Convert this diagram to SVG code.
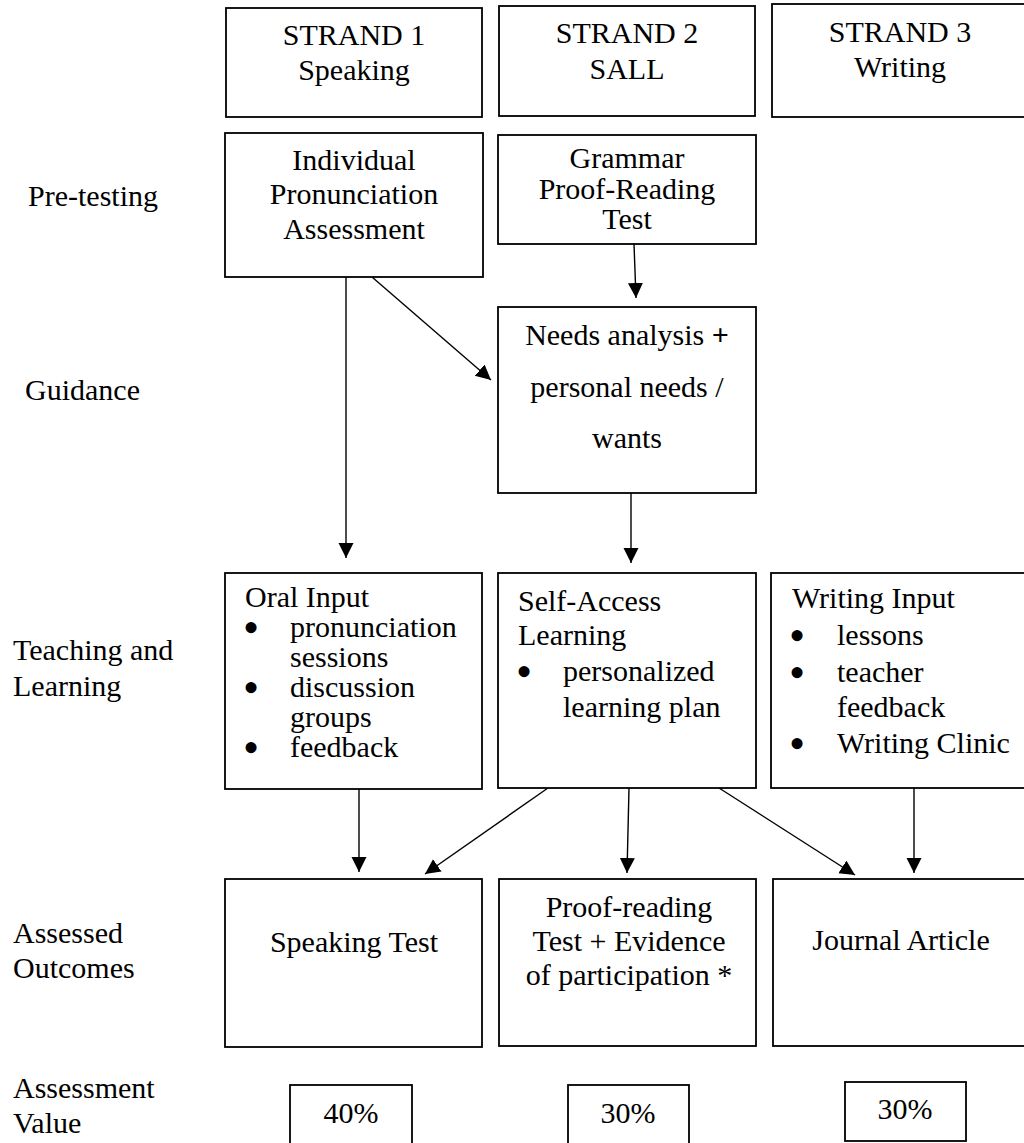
<svg xmlns="http://www.w3.org/2000/svg" width="1024" height="1143" viewBox="0 0 1024 1143">
<style>
text{font-family:"Liberation Serif","Times New Roman",serif;font-size:30px;fill:#000}
.c{text-anchor:middle}
.b{font-size:46px}
.box{fill:#fff;stroke:#000;stroke-width:1.8}
.ln{stroke:#000;stroke-width:1.4;fill:none;marker-end:url(#ah)}
</style>
<defs>
<marker id="ah" markerUnits="userSpaceOnUse" markerWidth="16" markerHeight="16" refX="15" refY="7.5" orient="auto">
<path d="M0,0 L15,7.5 L0,15 z" fill="#000"/>
</marker>
</defs>
<rect width="1024" height="1143" fill="#fff"/>

<g id="row-labels">
<text x="28" y="206">Pre-testing</text>
<text x="25" y="400">Guidance</text>
<text x="13" y="660">Teaching and</text>
<text x="13" y="696">Learning</text>
<text x="13" y="943">Assessed</text>
<text x="13" y="978">Outcomes</text>
<text x="13" y="1098">Assessment</text>
<text x="13" y="1133">Value</text>
</g>

<g id="connectors">
<line class="ln" x1="346" y1="277" x2="346" y2="558"/>
<line class="ln" x1="372" y1="277" x2="491" y2="380"/>
<line class="ln" x1="634" y1="244" x2="636" y2="298"/>
<line class="ln" x1="631" y1="493" x2="631" y2="563"/>
<line class="ln" x1="359" y1="789" x2="359" y2="872"/>
<line class="ln" x1="548" y1="788" x2="425" y2="874"/>
<line class="ln" x1="629" y1="788" x2="627" y2="873"/>
<line class="ln" x1="719" y1="788" x2="855" y2="875"/>
<line class="ln" x1="914" y1="788" x2="914" y2="873"/>
</g>

<g id="strand1">
<rect class="box" x="226" y="8" width="256" height="109"/>
<text class="c" x="354" y="45">STRAND 1</text>
<text class="c" x="354" y="80">Speaking</text>
</g>
<g id="strand2">
<rect class="box" x="499" y="6" width="256" height="110"/>
<text class="c" x="627" y="43">STRAND 2</text>
<text class="c" x="627" y="79">SALL</text>
</g>
<g id="strand3">
<rect class="box" x="772" y="4" width="260" height="113"/>
<text class="c" x="900" y="42">STRAND 3</text>
<text class="c" x="900" y="77">Writing</text>
</g>

<g id="pronunciation-assessment">
<rect class="box" x="225" y="133" width="258" height="144"/>
<text class="c" x="354" y="170">Individual</text>
<text class="c" x="354" y="204">Pronunciation</text>
<text class="c" x="354" y="239">Assessment</text>
</g>
<g id="grammar-test">
<rect class="box" x="498" y="135" width="258" height="109"/>
<text class="c" x="627" y="168">Grammar</text>
<text class="c" x="627" y="199">Proof-Reading</text>
<text class="c" x="627" y="229">Test</text>
</g>
<g id="needs-analysis">
<rect class="box" x="498" y="307" width="258" height="186"/>
<text class="c" x="627" y="345">Needs analysis <tspan font-weight="bold">+</tspan></text>
<text class="c" x="627" y="397">personal needs /</text>
<text class="c" x="627" y="448">wants</text>
</g>

<g id="oral-input">
<rect class="box" x="225" y="573" width="257" height="216"/>
<text x="245" y="607">Oral Input</text>
<text class="b" x="243" y="643">•</text>
<text x="290" y="637">pronunciation</text>
<text x="290" y="667">sessions</text>
<text class="b" x="243" y="703">•</text>
<text x="290" y="697">discussion</text>
<text x="290" y="727">groups</text>
<text class="b" x="243" y="763">•</text>
<text x="290" y="757">feedback</text>
</g>
<g id="self-access">
<rect class="box" x="498" y="573" width="258" height="215"/>
<text x="518" y="611">Self-Access</text>
<text x="518" y="645">Learning</text>
<text class="b" x="516" y="687">•</text>
<text x="563" y="681">personalized</text>
<text x="563" y="717">learning plan</text>
</g>
<g id="writing-input">
<rect class="box" x="771" y="573" width="261" height="215"/>
<text x="792" y="608">Writing Input</text>
<text class="b" x="789" y="651">•</text>
<text x="837" y="645">lessons</text>
<text class="b" x="789" y="688">•</text>
<text x="837" y="682">teacher</text>
<text x="837" y="717">feedback</text>
<text class="b" x="789" y="759">•</text>
<text x="837" y="753">Writing Clinic</text>
</g>

<g id="speaking-test">
<rect class="box" x="225" y="879" width="257" height="168"/>
<text class="c" x="354" y="952">Speaking Test</text>
</g>
<g id="proof-reading">
<rect class="box" x="499" y="879" width="257" height="167"/>
<text class="c" x="629" y="917">Proof-reading</text>
<text class="c" x="629" y="951">Test + Evidence</text>
<text class="c" x="629" y="985">of participation *</text>
</g>
<g id="journal-article">
<rect class="box" x="773" y="879" width="260" height="167"/>
<text class="c" x="901" y="950">Journal Article</text>
</g>

<g id="value-40">
<rect class="box" x="290" y="1085" width="122" height="70"/>
<text class="c" x="351" y="1123">40%</text>
</g>
<g id="value-30-sall">
<rect class="box" x="568" y="1085" width="121" height="70"/>
<text class="c" x="628" y="1123">30%</text>
</g>
<g id="value-30-writing">
<rect class="box" x="845" y="1082" width="121" height="59"/>
<text class="c" x="905" y="1119">30%</text>
</g>
</svg>
